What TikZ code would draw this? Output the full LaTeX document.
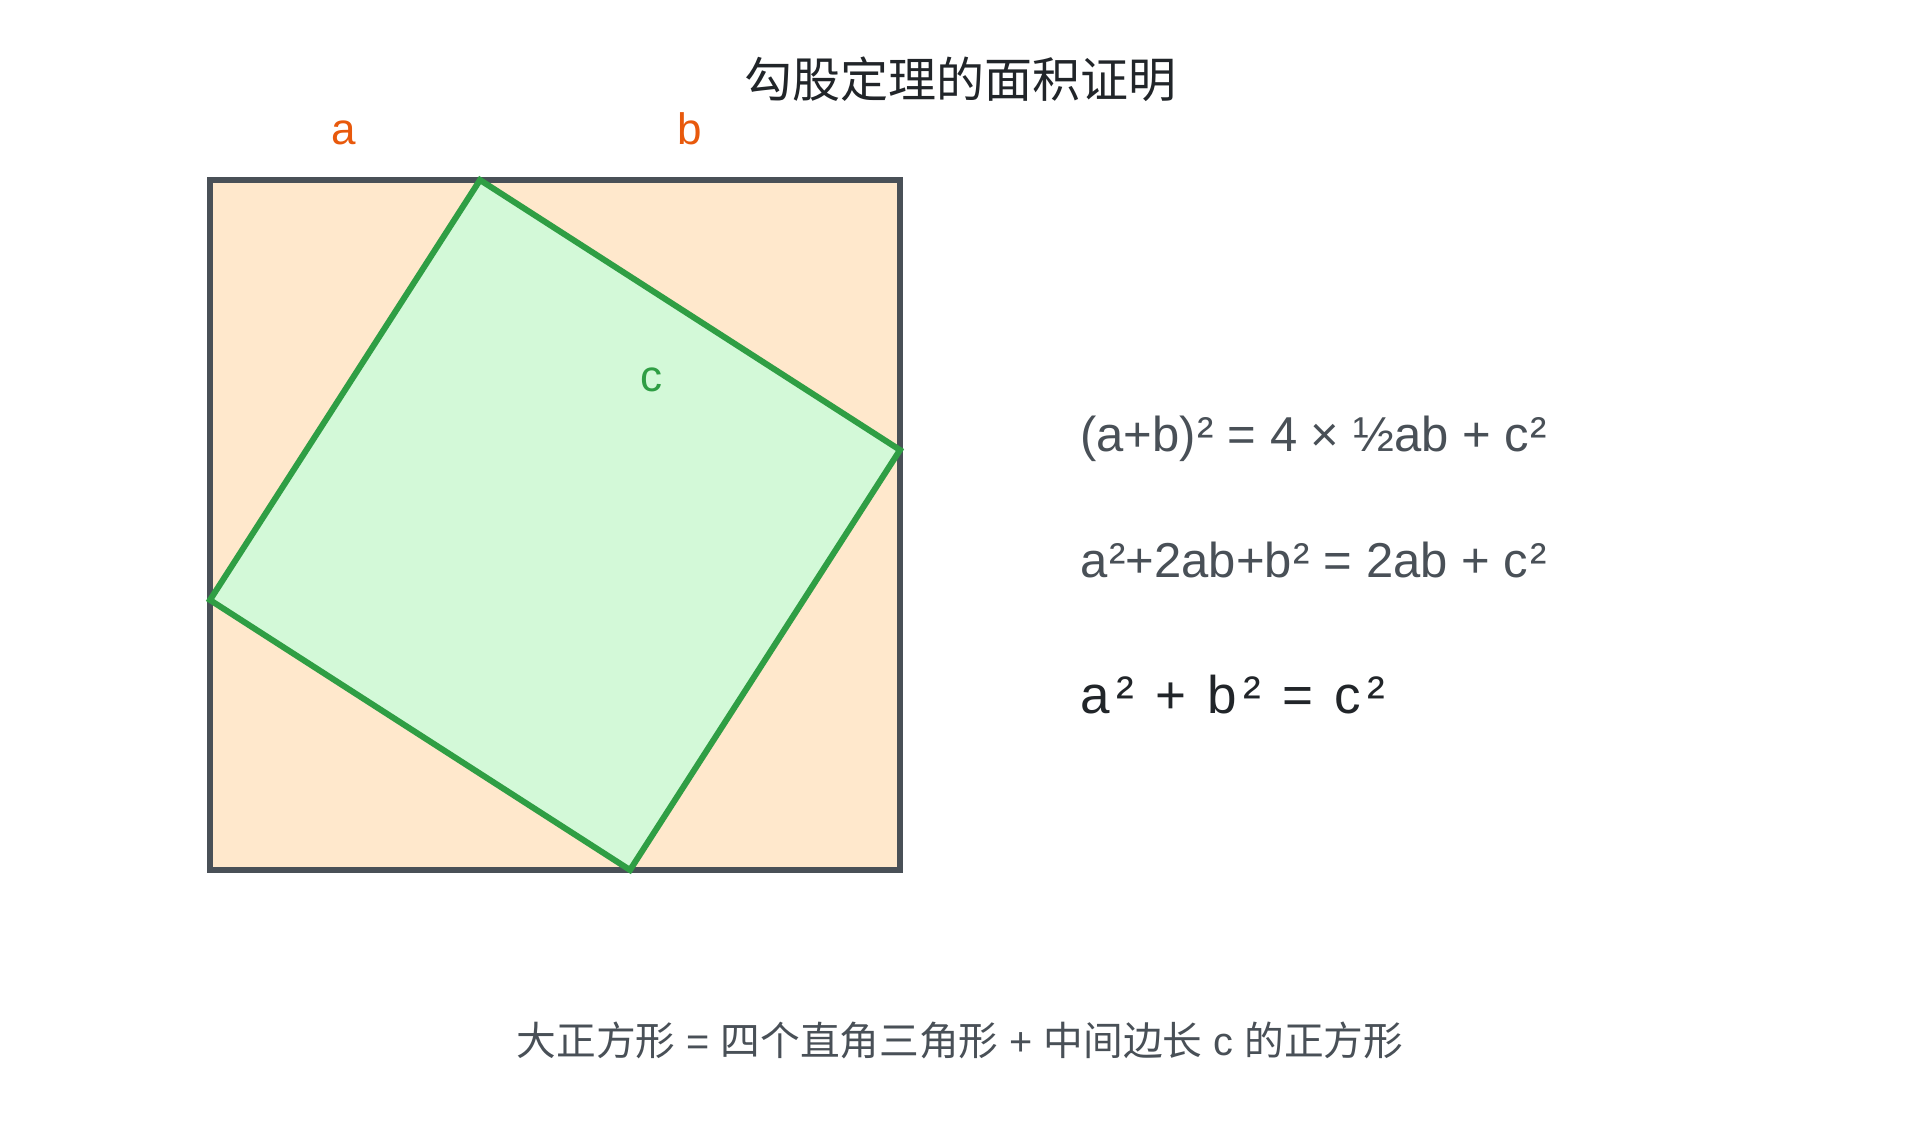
\documentclass[tikz,border=0pt]{standalone}
\usepackage{fontspec}
\setmainfont{Liberation Sans}
\newfontfamily\cjk{Noto Sans CJK SC}
\definecolor{edgegray}{HTML}{495057}
\definecolor{txtgray}{HTML}{495057}
\definecolor{dark}{HTML}{212529}
\definecolor{grn}{HTML}{2F9E44}
\definecolor{grnfill}{HTML}{D3F9D8}
\definecolor{orgfill}{HTML}{FFE8CC}
\definecolor{org}{HTML}{E8590C}
\newcommand\gp{\kern6.5pt}
\newcommand\sq{\kern2pt}
\begin{document}
\begin{tikzpicture}[x=1pt,y=-1pt,
  bigsq/.style={draw=edgegray, fill=orgfill, line width=6pt, minimum size=690pt, inner sep=0pt, outer sep=0pt, line join=miter},
  innersq/.style={draw=grn, fill=grnfill, line width=6pt, line join=miter, miter limit=2},
  sidelabel/.style={font=\fontsize{44}{53}\selectfont, text=org, anchor=base, inner sep=0pt},
  formula/.style={font=\fontsize{49}{58}\selectfont, text=txtgray, anchor=base west, inner sep=0pt},
  every node/.style={inner sep=0pt}]
\useasboundingbox (0,0) rectangle (1920,1140);
\fill[white] (0,0) rectangle (1920,1140);
\node[bigsq] (sq) at (555,525) {};
\coordinate (t) at (480,180);
\coordinate (r) at (900,450);
\coordinate (bt) at (630,870);
\coordinate (l) at (210,600);
\filldraw[innersq] (t) -- (r) -- (bt) -- (l) -- cycle;
\node[anchor=base, font=\cjk\fontsize{48}{58}\selectfont, text=dark] (title) at (960,98) {勾股定理的面积证明};
\node[sidelabel] (la) at (344,144) {a};
\node[sidelabel] (lb) at (690,144) {b};
\node[sidelabel, text=grn] (lc) at (651,391) {c};
\node[formula] (f1) at (1080,451) {(a+b)\sq² = 4 × ½ab + c\sq²};
\node[formula] (f2) at (1080,577) {a\sq²+2ab+b\sq² = 2ab + c\sq²};
\node[formula, font=\fontsize{53}{63}\selectfont, text=dark] (f3) at (1080,713) {a\gp²\ \gp+\ \gp b\gp²\ \gp=\ \gp c\gp²};
\node[anchor=base, font=\fontsize{39.7}{48}\selectfont, text=txtgray] (cap) at (960,1055) {{\cjk 大正方形} = {\cjk 四个直角三角形} + {\cjk 中间边长} c {\cjk 的正方形}};
\end{tikzpicture}
\end{document}
